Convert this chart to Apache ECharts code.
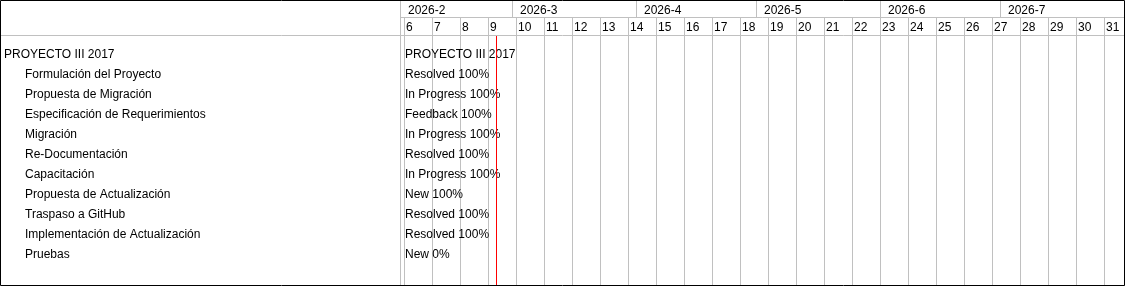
<!DOCTYPE html>
<html><head><meta charset="utf-8">
<script src="https://cdn.jsdelivr.net/npm/echarts@6/dist/echarts.min.js"></script>
<style>html,body{margin:0;padding:0;background:#fff}#c{width:1125px;height:286px}</style>
</head><body><div id="c"></div><script>
// ---- data ----
const tasks = ['PROYECTO III 2017','Formulación del Proyecto','Propuesta de Migración','Especificación de Requerimientos','Migración','Re-Documentación','Capacitación','Propuesta de Actualización','Traspaso a GitHub','Implementación de Actualización','Pruebas'];
const taskLevel = [0,1,1,1,1,1,1,1,1,1,1];
const taskStatus = ['','Resolved','In Progress','Feedback','In Progress','Resolved','In Progress','New','Resolved','Resolved','New'];
const taskDone = [null,100,100,100,100,100,100,100,100,100,0];
const weeks = [6,7,8,9,10,11,12,13,14,15,16,17,18,19,20,21,22,23,24,25,26,27,28,29,30,31];
const months = ['2026-2','2026-3','2026-4','2026-5','2026-6','2026-7'];
const monthStarts = ['2026-02-01','2026-03-01','2026-04-01','2026-05-01','2026-06-01','2026-07-01'];
const viewStart = '2026-02-02';
const viewEnd = '2026-08-01';
const today = '2026-02-25';

const FONT = '"Liberation Sans", Arial, sans-serif';
const GRID_C = '#c0c0c0';
const dayOf = s => (Date.parse(s) - Date.parse(viewStart)) / 864e5;
const XMAX = dayOf(viewEnd);

const monthData = months.map((m, i) => [dayOf(monthStarts[i]), i + 1 < months.length ? dayOf(monthStarts[i + 1]) : XMAX, i]);
const taskData = tasks.map((t, i) => [0, i]);

const L = 404, R = 1;
function xAx(gi, extra) {
  return Object.assign({
    type: 'value', gridIndex: gi, min: 0, max: XMAX, interval: 7,
    axisLine: {show: false}, axisTick: {show: false}, axisLabel: {show: false},
    splitLine: {show: false}
  }, extra || {});
}

const chart = echarts.init(document.getElementById('c'), null, {renderer: 'canvas'});
chart.setOption({
  animation: false,
  textStyle: {fontFamily: FONT, fontSize: 12, color: '#000'},
  grid: [
    {left: L, right: R, top: 0, height: 17},      // months
    {left: L, right: R, top: 17, height: 19},     // weeks
    {left: L, right: R, top: 36, bottom: 0},      // body lines
    {left: L, right: R, top: 45, height: 220}     // task rows
  ],
  xAxis: [
    xAx(0),
    xAx(1, {
      position: 'top',
      splitLine: {show: true, lineStyle: {color: GRID_C, width: 1}},
      axisLabel: {
        show: true, inside: true, margin: 5, align: 'left', padding: [0, 0, 0, 2],
        color: '#000', fontFamily: FONT, fontSize: 12, verticalAlign: 'top',
        showMinLabel: true, showMaxLabel: false,
        formatter: v => (v % 7 === 0 && v / 7 < weeks.length) ? String(weeks[v / 7]) : ''
      }
    }),
    xAx(2, {splitLine: {show: true, lineStyle: {color: GRID_C, width: 1}}}),
    xAx(3)
  ],
  yAxis: [
    {type: 'value', gridIndex: 0, min: 0, max: 1, show: false},
    {type: 'value', gridIndex: 1, min: 0, max: 1, show: false},
    {type: 'value', gridIndex: 2, min: 0, max: 1, show: false},
    {
      type: 'category', gridIndex: 3, inverse: true, data: tasks,
      axisLine: {show: false}, axisTick: {show: false}, splitLine: {show: false},
      axisLabel: {
        align: 'left', margin: L - 4, color: '#000', fontFamily: FONT, fontSize: 12,
        formatter: (v, i) => taskLevel[i] ? '{c|' + v + '}' : '{p|' + v + '}',
        rich: {
          p: {fontFamily: FONT, fontSize: 12, color: '#000'},
          c: {fontFamily: FONT, fontSize: 12, color: '#000', padding: [0, 0, 0, 21]}
        }
      }
    }
  ],
  series: [
    {
      type: 'custom', xAxisIndex: 0, yAxisIndex: 0, data: monthData,
      encode: {x: [0, 1]}, silent: true,
      renderItem(params, api) {
        const cs = params.coordSys;
        const x0 = Math.round(api.coord([api.value(0), 0])[0]) + 0.5;
        return {type: 'group', children: [
          {type: 'line', shape: {x1: x0, y1: cs.y, x2: x0, y2: cs.y + cs.height}, style: {stroke: GRID_C, lineWidth: 1}},
          {type: 'text', x: x0 + 7.5, y: cs.y + cs.height / 2 + 2,
           style: {text: months[api.value(2)], fill: '#000', font: '12px ' + FONT, verticalAlign: 'middle', align: 'left'}}
        ]};
      }
    },
    {
      type: 'custom', xAxisIndex: 2, yAxisIndex: 2, data: [[dayOf(today)]],
      encode: {x: 0}, silent: true, z: 5,
      renderItem(params, api) {
        const cs = params.coordSys;
        const x = Math.round(api.coord([api.value(0), 0])[0]) + 0.5;
        return {type: 'line', shape: {x1: x, y1: cs.y, x2: x, y2: cs.y + cs.height}, style: {stroke: '#ff0000', lineWidth: 1}};
      }
    },
    {
      type: 'custom', xAxisIndex: 3, yAxisIndex: 3, data: taskData,
      encode: {x: 0, y: 1}, silent: true, z: 4,
      renderItem(params, api) {
        const i = api.value(1);
        const p = api.coord([api.value(0), i]);
        const txt = taskLevel[i] ? taskStatus[i] + ' ' + taskDone[i] + '%' : tasks[i];
        return {type: 'text', x: p[0] + 1, y: p[1],
          style: {text: txt, fill: '#000', font: '12px ' + FONT, verticalAlign: 'middle', align: 'left'}};
      }
    }
  ],
  graphic: [
    {type: 'line', shape: {x1: 400.5, y1: 0, x2: 400.5, y2: 286}, style: {stroke: GRID_C, lineWidth: 1}, z: 10},
    {type: 'line', shape: {x1: 400, y1: 17.5, x2: 1125, y2: 17.5}, style: {stroke: GRID_C, lineWidth: 1}, z: 10},
    {type: 'line', shape: {x1: 0, y1: 35.5, x2: 1125, y2: 35.5}, style: {stroke: GRID_C, lineWidth: 1}, z: 10},
    {type: 'rect', shape: {x: 0.5, y: 0.5, width: 1124, height: 285}, style: {fill: 'none', stroke: '#000', lineWidth: 1}, z: 20}
  ]
});
</script></body></html>
